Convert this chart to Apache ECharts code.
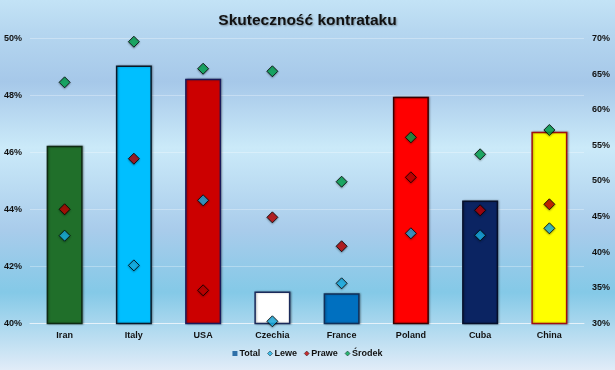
<!DOCTYPE html>
<html>
<head>
<meta charset="utf-8">
<script src="https://cdn.jsdelivr.net/npm/echarts@6/dist/echarts.min.js"></script>
<style>html,body{margin:0;padding:0;background:#fff}#c{width:615px;height:370px}</style>
</head>
<body>
<div id="c"></div>
<script>
var categories = ['Iran', 'Italy', 'USA', 'Czechia', 'France', 'Poland', 'Cuba', 'China'];
var total = [46.24, 49.05, 48.59, 41.12, 41.06, 47.96, 44.32, 46.73];
var lewe = [42.33, 38.16, 47.29, 30.31, 35.64, 42.66, 42.38, 43.36];
var prawe = [46.03, 53.13, 34.66, 44.90, 40.84, 50.52, 45.89, 46.73];
var srodek = [63.85, 69.55, 65.76, 65.40, 49.90, 56.13, 53.75, 57.16];
var barColors = ['#206F2A', '#00BFFF', '#CC0000', '#FFFFFF', '#0070C0', '#FF0000', '#0B2462', '#FFFF00'];
var barBorders = ['#0E2A12', '#0A1A2A', '#1A1A5A', '#1A2A5A', '#10305A', '#3A0000', '#050F2A', '#A01010'];

var fontFam = '"Liberation Sans", Arial, sans-serif';
var chart = echarts.init(document.getElementById('c'), null, {renderer: 'canvas'});
var bg = new echarts.graphic.LinearGradient(0, 0, 0, 1, [
  {offset: 0, color: '#C3E3F6'},
  {offset: 0.08, color: '#B6D7F0'},
  {offset: 0.22, color: '#A6C8E9'},
  {offset: 0.40, color: '#CBEAF9'},
  {offset: 0.62, color: '#A9CCEB'},
  {offset: 0.79, color: '#84C9E7'},
  {offset: 1, color: '#E1ECF8'}
]);
var diamond = function (name, data, color) {
  return {
    name: name, type: 'scatter', yAxisIndex: 1, data: data,
    symbol: 'diamond', symbolSize: 11,
    itemStyle: {color: color, borderColor: '#000', borderWidth: 1,
      shadowColor: 'rgba(0,0,0,0.35)', shadowBlur: 2, shadowOffsetY: 1},
    z: 5
  };
};
chart.setOption({
  animation: false,
  backgroundColor: bg,
  title: {
    text: 'Skuteczność kontrataku', left: 'center', top: 8,
    textStyle: {fontFamily: fontFam, fontSize: 15.5, fontWeight: 'bold', color: '#111',
      textShadowColor: 'rgba(0,0,0,0.35)', textShadowBlur: 2, textShadowOffsetX: 1, textShadowOffsetY: 1}
  },
  legend: {
    bottom: 7, left: 'center', itemWidth: 5, itemHeight: 5, itemGap: 7,
    itemStyle: {borderWidth: 0.5},
    textStyle: {fontFamily: fontFam, fontSize: 9, fontWeight: 'bold', color: '#111', padding: [0, 0, 0, -3]},
    data: [
      {name: 'Total', icon: 'rect'},
      {name: 'Lewe', icon: 'diamond'},
      {name: 'Prawe', icon: 'diamond'},
      {name: 'Środek', icon: 'diamond'}
    ]
  },
  grid: {left: 30, right: 31, top: 38.5, bottom: 46.5, containLabel: false},
  xAxis: {
    type: 'category', data: categories,
    axisLine: {lineStyle: {color: '#E6F2FA', width: 1}},
    axisTick: {show: false},
    axisLabel: {fontFamily: fontFam, fontSize: 9, fontWeight: 'bold', color: '#111', margin: 8}
  },
  yAxis: [
    {type: 'value', min: 40, max: 50, interval: 2,
      axisLabel: {formatter: '{value}%', fontFamily: fontFam, fontSize: 9, fontWeight: 'bold', color: '#111', margin: 8},
      splitLine: {lineStyle: {color: 'rgba(255,255,255,0.3)', width: 1}},
      axisLine: {show: false}, axisTick: {show: false}},
    {type: 'value', min: 30, max: 70, interval: 5,
      axisLabel: {formatter: '{value}%', fontFamily: fontFam, fontSize: 9, fontWeight: 'bold', color: '#111', margin: 8},
      splitLine: {show: false}, axisLine: {show: false}, axisTick: {show: false}}
  ],
  series: [
    {
      name: 'Total', type: 'bar', yAxisIndex: 0, barWidth: 36,
      itemStyle: {color: '#2E6FA8'},
      data: total.map(function (v, i) {
        return {value: v, itemStyle: {color: barColors[i], borderColor: barBorders[i], borderWidth: 1.5,
          shadowColor: 'rgba(0,0,0,0.3)', shadowBlur: 2, shadowOffsetX: 1}};
      }),
      z: 2
    },
    diamond('Lewe', lewe, '#1AB4EA'),
    diamond('Prawe', prawe, '#C00000'),
    diamond('Środek', srodek, '#00A850')
  ]
});
</script>
</body>
</html>
